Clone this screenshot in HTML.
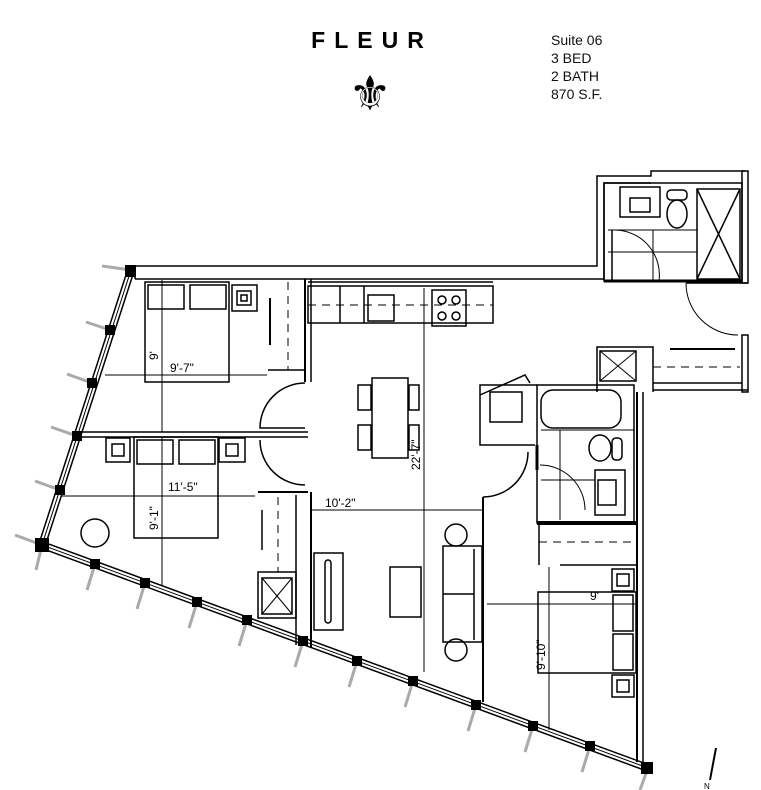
<!DOCTYPE html>
<html><head><meta charset="utf-8"><style>
html,body{margin:0;padding:0;background:#fff;}
svg{display:block}
</style></head><body>
<svg width="761" height="790" viewBox="0 0 761 790" xmlns="http://www.w3.org/2000/svg" font-family="Liberation Sans, sans-serif">
<rect width="761" height="790" fill="#fff"/>
<text x="372" y="48" text-anchor="middle" font-size="23" font-weight="bold" letter-spacing="9">FLEUR</text>
<text x="370" y="110" text-anchor="middle" font-size="48" font-weight="bold" font-family="DejaVu Sans, sans-serif">⚜</text>
<g font-size="14" fill="#111">
<text x="551" y="45">Suite 06</text>
<text x="551" y="63">3 BED</text>
<text x="551" y="81">2 BATH</text>
<text x="551" y="99">870 S.F.</text>
</g>

<g stroke="#aaa" stroke-width="3">
<line x1="131" y1="270" x2="102" y2="266"/>
<line x1="110" y1="330" x2="86" y2="322"/>
<line x1="92" y1="383" x2="67" y2="374"/>
<line x1="77" y1="436" x2="51" y2="427"/>
<line x1="60" y1="490" x2="35" y2="481"/>
<line x1="42" y1="545" x2="15" y2="535"/>
<line x1="42" y1="545" x2="36" y2="570"/>
<line x1="95" y1="564" x2="87" y2="590"/>
<line x1="145" y1="583" x2="137" y2="609"/>
<line x1="197" y1="602" x2="189" y2="628"/>
<line x1="247" y1="620" x2="239" y2="646"/>
<line x1="303" y1="641" x2="295" y2="667"/>
<line x1="357" y1="661" x2="349" y2="687"/>
<line x1="413" y1="681" x2="405" y2="707"/>
<line x1="476" y1="705" x2="468" y2="731"/>
<line x1="533" y1="726" x2="525" y2="752"/>
<line x1="590" y1="746" x2="582" y2="772"/>
<line x1="648" y1="768" x2="640" y2="790"/>
</g>
<polyline points="131,270 42,545 648,768" fill="none" stroke="#000" stroke-width="8"/>
<polyline points="131,270 42,545 648,768" fill="none" stroke="#fff" stroke-width="5"/>
<polyline points="131,270 42,545 648,768" fill="none" stroke="#000" stroke-width="1"/>
<g fill="#000">
<rect x="125" y="265" width="11" height="12"/>
<rect x="105" y="325" width="10" height="10"/>
<rect x="87" y="378" width="10" height="10"/>
<rect x="72" y="431" width="10" height="10"/>
<rect x="55" y="485" width="10" height="10"/>
<rect x="35" y="538" width="14" height="14"/>
<rect x="90" y="559" width="10" height="10"/>
<rect x="140" y="578" width="10" height="10"/>
<rect x="192" y="597" width="10" height="10"/>
<rect x="242" y="615" width="10" height="10"/>
<rect x="298" y="636" width="10" height="10"/>
<rect x="352" y="656" width="10" height="10"/>
<rect x="408" y="676" width="10" height="10"/>
<rect x="471" y="700" width="10" height="10"/>
<rect x="528" y="721" width="10" height="10"/>
<rect x="585" y="741" width="10" height="10"/>
<rect x="641" y="762" width="12" height="12"/>
</g>

<g fill="none" stroke="#000" stroke-width="1.5">
<polyline points="135,266 597,266 597,176 651,176 651,171 745,171"/>
<polyline points="135,279 604,279 604,183 651,183"/>
<line x1="135" y1="266" x2="135" y2="279"/>
<rect x="604" y="183" width="138" height="98"/>
<rect x="742" y="171" width="6" height="112"/>
<line x1="604" y1="281" x2="742" y2="281" stroke-width="3"/>
<rect x="620" y="187" width="40" height="30"/>
<rect x="630" y="198" width="20" height="14"/>
<ellipse cx="677" cy="214" rx="10" ry="14"/>
<rect x="667" y="190" width="20" height="10" rx="4"/>
<rect x="697" y="189" width="43" height="90"/>
<line x1="697" y1="189" x2="740" y2="279"/><line x1="740" y1="189" x2="697" y2="279"/>
<line x1="608" y1="230" x2="697" y2="230" stroke-width="1"/>
<line x1="608" y1="252" x2="697" y2="252" stroke-width="1"/>
<line x1="653" y1="230" x2="653" y2="281" stroke-width="1"/>
<path d="M614,230 A45,45 0 0 1 659,281" stroke-width="1"/>
<line x1="612" y1="230" x2="612" y2="280"/>
<line x1="686" y1="283" x2="748" y2="283"/>
<path d="M686,283 A52,52 0 0 0 738,335" stroke-width="1"/>
<rect x="742" y="335" width="6" height="57"/>
<polyline points="597,392 597,347 653,347 653,392"/>
<rect x="600" y="351" width="36" height="30"/>
<line x1="600" y1="351" x2="636" y2="381" stroke-width="1"/><line x1="636" y1="351" x2="600" y2="381" stroke-width="1"/>
<line x1="653" y1="383" x2="742" y2="383"/>
<line x1="653" y1="390" x2="748" y2="390"/>
<line x1="670" y1="349" x2="735" y2="349" stroke-width="2"/>
<line x1="653" y1="367" x2="740" y2="367" stroke-dasharray="8,6" stroke-width="1"/>
<line x1="637" y1="392" x2="637" y2="762" stroke-width="2"/>
<line x1="643" y1="392" x2="643" y2="765"/>
<rect x="308" y="286" width="185" height="37"/>
<line x1="308" y1="282" x2="493" y2="282"/>
<line x1="340" y1="286" x2="340" y2="323"/><line x1="364" y1="286" x2="364" y2="323"/>
<rect x="368" y="295" width="26" height="26"/>
<rect x="432" y="290" width="34" height="36"/>
<circle cx="442" cy="300" r="4"/><circle cx="456" cy="300" r="4"/><circle cx="442" cy="316" r="4"/><circle cx="456" cy="316" r="4"/>
<line x1="308" y1="305" x2="493" y2="305" stroke-dasharray="8,6" stroke-width="1"/>
<line x1="305" y1="279" x2="305" y2="382" stroke-width="2"/>
<line x1="311" y1="279" x2="311" y2="382"/>
<line x1="268" y1="370" x2="305" y2="370"/>
<line x1="288" y1="282" x2="288" y2="370" stroke-dasharray="8,6" stroke-width="1"/>
<line x1="270" y1="298" x2="270" y2="345" stroke-width="2"/>
<rect x="145" y="282" width="84" height="100"/>
<rect x="148" y="285" width="36" height="24"/><rect x="190" y="285" width="36" height="24"/>
<rect x="232" y="285" width="25" height="26"/><rect x="237" y="291" width="14" height="14"/><rect x="241" y="295" width="6" height="6"/>
<path d="M305,383 A45,45 0 0 0 260,428 L305,428"/>
<line x1="82" y1="432" x2="308" y2="432"/>
<line x1="80" y1="437" x2="308" y2="437"/>
<path d="M260,440 A45,45 0 0 0 305,485"/>
<rect x="134" y="437" width="84" height="101"/>
<rect x="137" y="440" width="36" height="24"/><rect x="179" y="440" width="36" height="24"/>
<rect x="106" y="438" width="24" height="24"/><rect x="112" y="444" width="12" height="12"/>
<rect x="219" y="438" width="26" height="24"/><rect x="226" y="444" width="12" height="12"/>
<circle cx="95" cy="533" r="14"/>
<line x1="258" y1="492" x2="308" y2="492" stroke-width="2"/>
<line x1="296" y1="495" x2="296" y2="645"/>
<line x1="311" y1="492" x2="311" y2="648" stroke-width="2"/>
<line x1="278" y1="497" x2="278" y2="572" stroke-dasharray="8,6" stroke-width="1"/>
<line x1="262" y1="510" x2="262" y2="550"/>
<rect x="258" y="572" width="38" height="46"/>
<rect x="262" y="578" width="30" height="36"/>
<line x1="262" y1="578" x2="292" y2="614" stroke-width="1"/><line x1="292" y1="578" x2="262" y2="614" stroke-width="1"/>
<rect x="314" y="553" width="29" height="77"/>
<rect x="325" y="560" width="6" height="63" rx="3"/>
<rect x="390" y="567" width="31" height="50"/>
<rect x="443" y="546" width="39" height="96"/>
<line x1="474" y1="549" x2="474" y2="640"/><line x1="443" y1="594" x2="474" y2="594"/>
<circle cx="456" cy="535" r="11"/><circle cx="456" cy="650" r="11"/>
<line x1="483" y1="497" x2="483" y2="702" stroke-width="2"/>
<path d="M483,497 A45,45 0 0 0 528,452"/>
<rect x="372" y="378" width="36" height="80"/>
<rect x="358" y="385" width="13" height="25"/><rect x="358" y="425" width="13" height="25"/>
<rect x="409" y="385" width="10" height="25"/><rect x="409" y="425" width="10" height="25"/>
<polyline points="537,385 480,385 480,445 535,445"/>
<path d="M480,395 L525,375 L530,383"/>
<rect x="490" y="392" width="32" height="30"/>
<rect x="537" y="385" width="97" height="138"/>
<line x1="537" y1="523" x2="637" y2="523" stroke-width="4"/>
<rect x="541" y="390" width="80" height="38" rx="12"/>
<ellipse cx="600" cy="448" rx="11" ry="13"/><rect x="612" y="438" width="10" height="22" rx="4"/>
<rect x="595" y="470" width="30" height="45"/><rect x="598" y="480" width="18" height="25"/>
<line x1="541" y1="430" x2="634" y2="430" stroke-width="1"/>
<line x1="560" y1="430" x2="560" y2="520" stroke-width="1"/>
<line x1="541" y1="480" x2="595" y2="480" stroke-width="1"/>
<path d="M540,465 A45,45 0 0 1 585,510" stroke-width="1"/>
<line x1="537" y1="445" x2="537" y2="470" stroke-width="3"/>
<line x1="539" y1="525" x2="539" y2="565"/>
<line x1="539" y1="542" x2="637" y2="542" stroke-dasharray="8,6" stroke-width="1"/>
<line x1="560" y1="565" x2="637" y2="565"/>
<rect x="538" y="592" width="98" height="81"/>
<rect x="613" y="595" width="20" height="36"/><rect x="613" y="634" width="20" height="36"/>
<rect x="612" y="569" width="22" height="22"/><rect x="617" y="574" width="12" height="12"/>
<rect x="612" y="675" width="22" height="22"/><rect x="617" y="680" width="12" height="12"/>
</g>

<g stroke="#000" stroke-width="1" fill="none">
<line x1="105" y1="375" x2="267" y2="375"/>
<line x1="162" y1="280" x2="162" y2="432"/>
<line x1="62" y1="496" x2="255" y2="496"/>
<line x1="162" y1="437" x2="162" y2="585"/>
<line x1="312" y1="510" x2="482" y2="510"/>
<line x1="424" y1="288" x2="424" y2="672"/>
<line x1="487" y1="604" x2="636" y2="604"/>
<line x1="549" y1="567" x2="549" y2="730"/>
<line x1="716" y1="748" x2="710" y2="780" stroke-width="2"/>
</g>
<text x="704" y="789" font-size="8">N</text>
<g font-size="12" fill="#000">
<text x="170" y="372">9'-7"</text>
<text x="168" y="491">11'-5"</text>
<text x="325" y="507">10'-2"</text>
<text x="590" y="600">9'</text>
<text transform="translate(158,360) rotate(-90)">9'</text>
<text transform="translate(158,530) rotate(-90)">9'-1"</text>
<text transform="translate(420,470) rotate(-90)">22'-7"</text>
<text transform="translate(545,670) rotate(-90)">9'-10"</text>
</g>
</svg>
</body></html>
